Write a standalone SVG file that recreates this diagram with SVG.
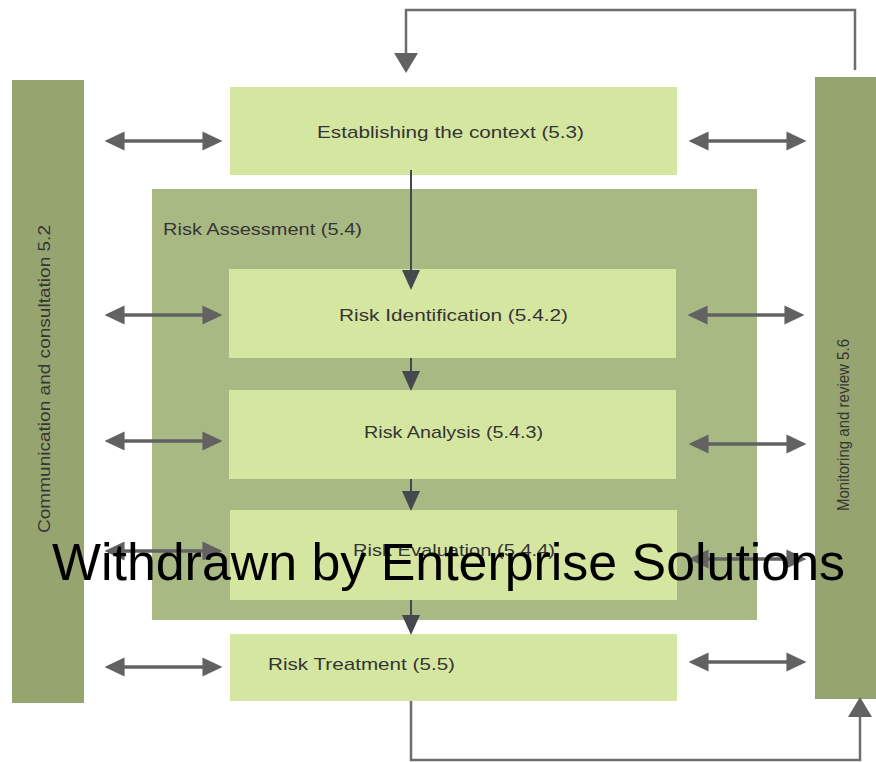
<svg xmlns="http://www.w3.org/2000/svg" width="876" height="762" viewBox="0 0 876 762">
<style>
.bar{fill:#96a56f}
.outer{fill:#a9b984}
.box{fill:#d5e6a1}
.t{font-family:"Liberation Sans",Arial,sans-serif;font-size:17px;fill:#353535}
.dbl{stroke:#626262;stroke-width:3.5;fill:none;marker-start:url(#h);marker-end:url(#h)}
.down{stroke:#45484c;stroke-width:2;fill:none;marker-end:url(#v)}
.loop{stroke:#6e6e6e;stroke-width:2.5;fill:none;marker-end:url(#l)}
.wm{font-family:"Liberation Sans",Arial,sans-serif;font-size:52px;fill:#000}
</style>
<defs>
<marker id="h" markerUnits="userSpaceOnUse" markerWidth="20" markerHeight="20" viewBox="0 0 18 18" refX="14" refY="9" orient="auto-start-reverse"><path d="M0,0.5 L18,9 L0,17.5 Z" fill="#626262"/></marker>
<marker id="v" markerUnits="userSpaceOnUse" markerWidth="20" markerHeight="22" viewBox="0 0 20 20" refX="17" refY="9" orient="auto"><path d="M0,0 L20,9 L0,18 Z" fill="#45484c"/></marker>
<marker id="l" markerUnits="userSpaceOnUse" markerWidth="24" markerHeight="24" viewBox="0 0 20 24" refX="17" refY="12" orient="auto"><path d="M0,0 L20,12 L0,24 Z" fill="#626262"/></marker>
</defs>
<rect width="876" height="762" fill="#fff"/>

<g id="comm">
<rect class="bar" x="12" y="80" width="72" height="623"/>
<text class="t" transform="translate(50,379) rotate(-90)" text-anchor="middle" textLength="308" lengthAdjust="spacingAndGlyphs">Communication and consultation 5.2</text>
</g>
<g id="monitor">
<rect class="bar" x="815" y="77" width="61" height="622"/>
<text class="t" transform="translate(849,425) rotate(-90)" text-anchor="middle" textLength="172" lengthAdjust="spacingAndGlyphs">Monitoring and review 5.6</text>
</g>
<g id="context">
<rect class="box" x="230" y="87" width="447" height="88"/>
<text class="t" x="317" y="138" textLength="267" lengthAdjust="spacingAndGlyphs">Establishing the context (5.3)</text>
</g>
<g id="assessment">
<rect class="outer" x="152" y="189" width="605" height="431"/>
<text class="t" x="163" y="235" textLength="199" lengthAdjust="spacingAndGlyphs">Risk Assessment (5.4)</text>
</g>
<g id="identification">
<rect class="box" x="229" y="269" width="447" height="89"/>
<text class="t" x="339" y="321" textLength="229" lengthAdjust="spacingAndGlyphs">Risk Identification (5.4.2)</text>
</g>
<g id="analysis">
<rect class="box" x="229" y="390" width="447" height="89"/>
<text class="t" x="364" y="438" textLength="179" lengthAdjust="spacingAndGlyphs">Risk Analysis (5.4.3)</text>
</g>
<g id="evaluation">
<rect class="box" x="230" y="510" width="447" height="90"/>
<text class="t" x="353" y="556" textLength="202" lengthAdjust="spacingAndGlyphs">Risk Evaluation (5.4.4)</text>
</g>
<g id="treatment">
<rect class="box" x="230" y="634" width="447" height="67"/>
<text class="t" x="268" y="670" textLength="187" lengthAdjust="spacingAndGlyphs">Risk Treatment (5.5)</text>
</g>

<g id="connectors">
<path class="dbl" d="M109,141 H218"/>
<path class="dbl" d="M693,141 H802"/>
<path class="dbl" d="M109,315 H218"/>
<path class="dbl" d="M692,315 H800"/>
<path class="dbl" d="M109,441 H218"/>
<path class="dbl" d="M693,444 H802"/>
<path class="dbl" d="M109,551 H218"/>
<path class="dbl" d="M693,559 H802"/>
<path class="dbl" d="M109,667 H218"/>
<path class="dbl" d="M693,662 H802"/>
<path class="down" d="M411,170 V287"/>
<path class="down" d="M411,358 V388"/>
<path class="down" d="M411,479 V508"/>
<path class="down" d="M411,600 V632"/>
<path class="loop" d="M855,70 V10 H406 V70"/>
<path class="loop" d="M411,701 V760 H860 V700"/>
</g>
<text class="wm" x="52" y="580" textLength="793" lengthAdjust="spacingAndGlyphs">Withdrawn by Enterprise Solutions</text>
</svg>
